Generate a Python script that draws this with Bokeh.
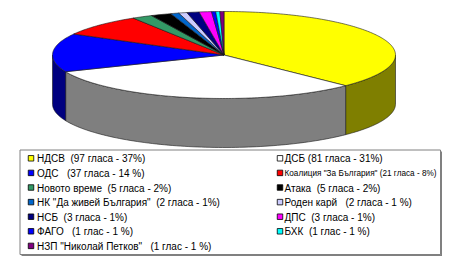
import numpy as np
from bokeh.plotting import figure
from bokeh.models import Range1d, ColumnDataSource
from bokeh.core.properties import value
from bokeh.embed import file_html
from bokeh.resources import INLINE

# ---- data ----
parties = ["НДСВ", "ДСБ", "ОДС", 'Коалиция "За България"', "Новото време", "Атака",
           'НК "Да живей България"', "Роден карй", "НСБ", "ДПС", "ФАГО", "БХК",
           'НЗП "Николай Петков"']
seats = [97, 81, 37, 21, 5, 5, 2, 2, 3, 3, 1, 1, 1]
legend_labels = [
    "НДСВ  (97 гласа - 37%)",
    "ДСБ (81 гласа - 31%)",
    "ОДС   (37 гласа - 14 %)",
    'Коалиция "За България" (21 гласа - 8%)',
    "Новото време  (5 гласа - 2%)",
    "Атака  (5 гласа - 2%)",
    'НК "Да живей България"  (2 гласа - 1%)',
    "Роден карй   (2 гласа - 1 %)",
    "НСБ  (3 гласа - 1%)",
    "ДПС  (3 гласа - 1%)",
    "ФАГО   (1 глас - 1 %)",
    "БХК  (1 глас - 1 %)",
    'НЗП "Николай Петков"   (1 глас - 1 %)',
]
colors = ["#FFFF00", "#FFFFFF", "#0000FF", "#FF0000", "#339966", "#000000",
          "#0066CC", "#CCCCFF", "#000080", "#FF00FF", "#0000FF", "#00FFFF", "#800080"]

# ---- geometry (layout) ----
W, H = 450, 259
cx, cy, rx, ry, depth = 223.5, 54.5, 171.5, 43.5, 49.0


def darken(c):
    r, g, b = int(c[1:3], 16), int(c[3:5], 16), int(c[5:7], 16)
    return "#%02x%02x%02x" % (r // 2, g // 2, b // 2)


def pt(theta, dy=0.0):
    return cx + rx * np.sin(theta), cy - ry * np.cos(theta) + dy


def keep_spaces(s):
    # SVG collapses runs of spaces; keep them with non-breaking spaces
    return s.replace("  ", "\u00a0 ").replace("  ", " \u00a0")


p = figure(width=W, height=H, x_range=Range1d(0, W), y_range=Range1d(H, 0),
           output_backend="svg", toolbar_location=None, min_border=0,
           background_fill_color="white", border_fill_color="white")
p.axis.visible = False
p.grid.visible = False
p.outline_line_color = None

total = float(sum(seats))
bounds = np.concatenate([[0.0], np.cumsum(seats) / total * 2 * np.pi])

# side walls (visible front half: pi/2 .. 3pi/2)
sx, sy, sc = [], [], []
for i in range(len(seats)):
    a, b = max(bounds[i], np.pi / 2), min(bounds[i + 1], 3 * np.pi / 2)
    if b <= a:
        continue
    th = np.linspace(a, b, 80)
    xt, yt = pt(th)
    xb, yb = pt(th[::-1], depth)
    sx.append(list(xt) + list(xb))
    sy.append(list(yt) + list(yb))
    sc.append(darken(colors[i]))
p.patches(sx, sy, fill_color=sc, line_color="#1a1a1a", line_width=0.6)

# top wedges
tx, ty = [], []
for i in range(len(seats)):
    n = max(4, int((bounds[i + 1] - bounds[i]) * 60))
    th = np.linspace(bounds[i], bounds[i + 1], n)
    xs, ys = pt(th)
    tx.append([cx] + list(xs))
    ty.append([cy] + list(ys))
p.patches(tx, ty, fill_color=colors, line_color="#1a1a1a", line_width=0.6)

# legend box
lx0, ly0, lx1, ly1 = 19.5, 149.5, 440.0, 254.0
p.quad(left=lx0 + 1.5, right=lx1 + 1.5, top=ly0 + 1.5, bottom=ly1 + 1.5,
       fill_color="#808080", line_color=None)
p.quad(left=lx0, right=lx1, top=ly0, bottom=ly1,
       fill_color="white", line_color="#808080", line_width=1)

col_sq = [30.5, 279.5]
col_tx = [36.5, 284.0]
row0, step = 157.8, 14.6
qx, qy, txx, tyy, fs = [], [], [], [], []
for i, lab in enumerate(legend_labels):
    c, r = i % 2, i // 2
    qx.append(col_sq[c])
    qy.append(row0 + r * step)
    txx.append(col_tx[c])
    tyy.append(row0 + r * step + 0.5)
    # the longest right-hand entry must stay inside the legend frame
    fs.append("8.2px" if len(lab) > 36 and c == 1 else "10px")
p.rect(x=qx, y=qy, width=5.5, height=5.5, fill_color=colors,
       line_color="#000000", line_width=0.8)
src = ColumnDataSource(dict(x=txx, y=tyy, t=[keep_spaces(s) for s in legend_labels], fs=fs))
p.text(x="x", y="y", text="t", source=src, text_font=value("Liberation Sans"),
       text_font_size="fs", text_baseline="middle", text_align="left",
       text_color="#000000")

open("out.html", "w").write(file_html(p, INLINE))
